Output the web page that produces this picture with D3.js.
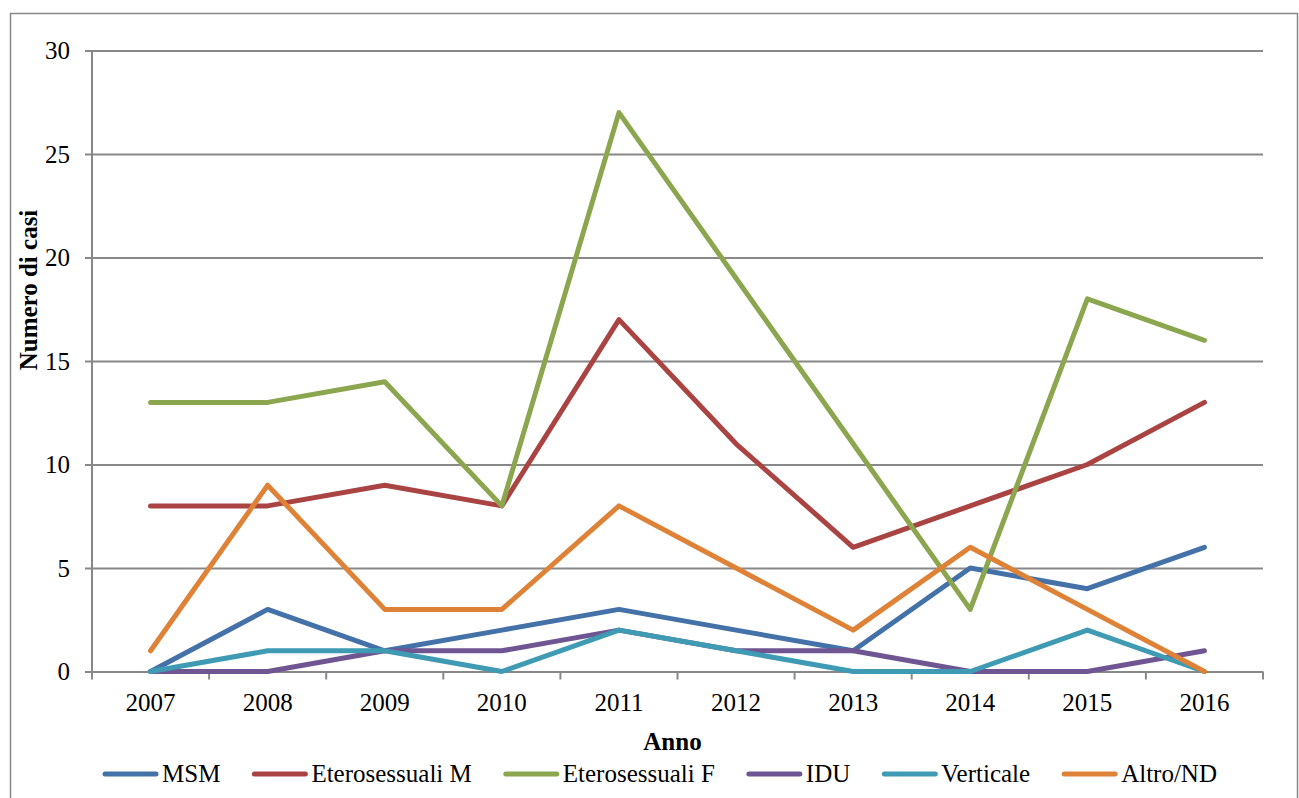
<!DOCTYPE html>
<html>
<head>
<meta charset="utf-8">
<script src="https://cdn.jsdelivr.net/npm/d3@7"></script>
<style>
  html, body { margin: 0; padding: 0; background: #fff; }
  svg { display: block; }
  text { font-family: "Liberation Serif", "DejaVu Serif", serif; fill: #000; }
</style>
</head>
<body>
<svg id="chart" width="1299" height="798"></svg>
<script>
// Anni e casi per modalità di trasmissione
const years = ["2007", "2008", "2009", "2010", "2011", "2012", "2013", "2014", "2015", "2016"];
const seriesNames = ["MSM", "Eterosessuali M", "Eterosessuali F", "IDU", "Verticale", "Altro/ND"];
const msm        = [0, 3, 1, 2, 3, 2, 1, 5, 4, 6];
const eteroM     = [8, 8, 9, 8, 17, 11, 6, 8, 10, 13];
const eteroF     = [13, 13, 14, 8, 27, 19, 11, 3, 18, 16];
const idu        = [0, 0, 1, 1, 2, 1, 1, 0, 0, 1];
const verticale  = [0, 1, 1, 0, 2, 1, 0, 0, 2, 0];
const altroND    = [1, 9, 3, 3, 8, 5, 2, 6, 3, 0];
const yTicks     = [0, 5, 10, 15, 20, 25, 30];
const colors     = ["#4472A8", "#A94442", "#8BA64E", "#6F5592", "#3F9BB3", "#DE8238"];

const seriesValues = [msm, eteroM, eteroF, idu, verticale, altroND];

const svg = d3.select("#chart");
const gridColor = "#888888";
const fontSize = 25;

// cornice esterna
svg.append("rect")
  .attr("x", 10.5).attr("y", 13.5)
  .attr("width", 1287).attr("height", 800)
  .attr("fill", "none").attr("stroke", gridColor).attr("stroke-width", 1.5);

const plot = { left: 92, right: 1263, top: 50.5, bottom: 671.5 };

const x = d3.scaleBand().domain(years).range([plot.left, plot.right]);
const y = d3.scaleLinear().domain([0, 30]).range([plot.bottom, plot.top]);

// griglia orizzontale e tacche asse Y
const yAxis = d3.axisLeft(y).tickValues(yTicks).tickSize(plot.right - plot.left + 7).tickSizeOuter(0).tickPadding(15);
const gy = svg.append("g")
  .attr("transform", `translate(${plot.right},0)`)
  .call(yAxis);
gy.select(".domain").remove();
gy.selectAll(".tick line").attr("stroke", gridColor).attr("stroke-width", 2);
gy.selectAll(".tick text")
  .attr("font-size", fontSize)
  .attr("font-family", "Liberation Serif, serif")
  .attr("fill", "#000");

// asse verticale
svg.append("line")
  .attr("x1", plot.left).attr("x2", plot.left)
  .attr("y1", plot.top).attr("y2", plot.bottom)
  .attr("stroke", gridColor).attr("stroke-width", 2);

// asse X: tacche ai bordi delle categorie
const bounds = years.map(d => x(d)).concat([plot.right]);
svg.append("g").selectAll("line").data(bounds).join("line")
  .attr("x1", d => d).attr("x2", d => d)
  .attr("y1", plot.bottom).attr("y2", plot.bottom + 8)
  .attr("stroke", gridColor).attr("stroke-width", 2);

svg.append("g").selectAll("text").data(years).join("text")
  .attr("x", d => x(d) + x.bandwidth() / 2)
  .attr("y", plot.bottom + 39)
  .attr("text-anchor", "middle")
  .attr("font-size", fontSize)
  .text(d => d);

// titoli degli assi
svg.append("text")
  .attr("x", (plot.left + plot.right) / 2 - 5)
  .attr("y", 750)
  .attr("text-anchor", "middle")
  .attr("font-size", fontSize)
  .attr("font-weight", "bold")
  .text("Anno");

svg.append("text")
  .attr("transform", "translate(37,290) rotate(-90)")
  .attr("text-anchor", "middle")
  .attr("font-size", fontSize)
  .attr("font-weight", "bold")
  .text("Numero di casi");

// linee delle serie
const line = d3.line()
  .x((d, i) => x(years[i]) + x.bandwidth() / 2)
  .y(d => y(d));

svg.append("g").selectAll("path").data(seriesValues).join("path")
  .attr("d", d => line(d))
  .attr("fill", "none")
  .attr("stroke", (d, i) => colors[i])
  .attr("stroke-width", 5)
  .attr("stroke-linejoin", "round")
  .attr("stroke-linecap", "round");

// legenda
const legendY = 774;
const lineLen = 55, textGap = 4, itemGap = 32;
const legend = svg.append("g");
const items = legend.selectAll("g").data(seriesNames).join("g");
items.append("text")
  .attr("font-size", fontSize)
  .attr("dy", "0.33em")
  .text(d => d);
const widths = [];
items.each(function () { widths.push(this.querySelector("text").getComputedTextLength()); });
const total = d3.sum(widths) + seriesNames.length * (lineLen + textGap) + (seriesNames.length - 1) * itemGap;
let cx = 660 - total / 2;
items.each(function (d, i) {
  const g = d3.select(this).attr("transform", `translate(${cx},${legendY})`);
  g.insert("line", "text")
    .attr("x1", 2).attr("x2", lineLen - 2)
    .attr("y1", 0).attr("y2", 0)
    .attr("stroke", colors[i]).attr("stroke-width", 5)
    .attr("stroke-linecap", "round");
  g.select("text").attr("x", lineLen + textGap);
  cx += lineLen + textGap + widths[i] + itemGap;
});
</script>
</body>
</html>
